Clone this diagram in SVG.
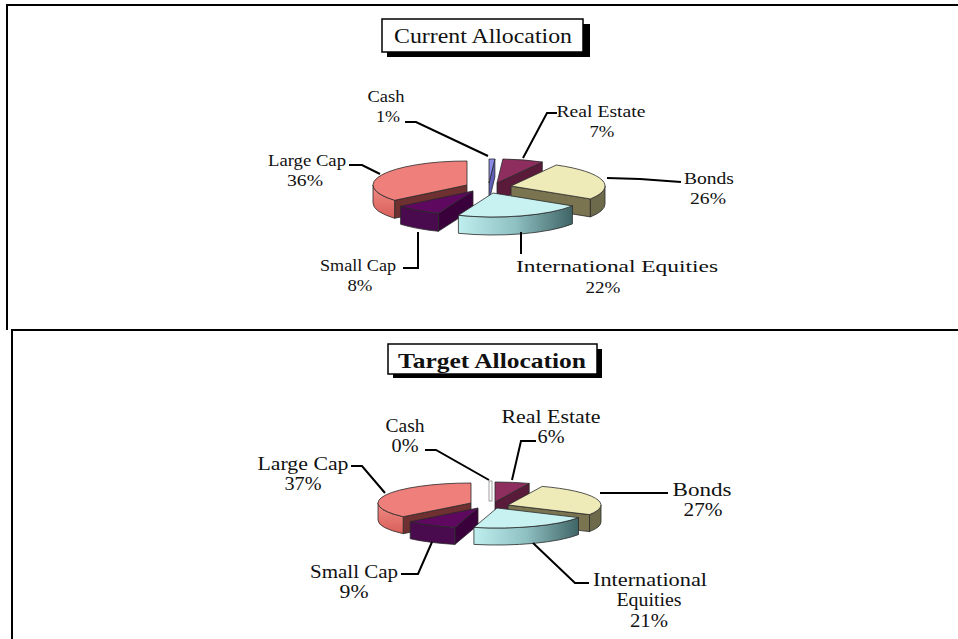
<svg xmlns="http://www.w3.org/2000/svg" width="958" height="639" viewBox="0 0 958 639">
<defs>
<linearGradient id="cyanSide" x1="0" y1="0" x2="1" y2="0">
<stop offset="0" stop-color="#bfeeee"/><stop offset="0.5" stop-color="#8fc0c2"/><stop offset="1" stop-color="#3f6466"/>
</linearGradient>
<linearGradient id="salmonSide" x1="0" y1="0" x2="0" y2="1">
<stop offset="0" stop-color="#f08a84"/><stop offset="1" stop-color="#d85f5a"/>
</linearGradient>
<style>
.frame{fill:none;stroke:#000;stroke-width:2}
.lead{fill:none;stroke:#000;stroke-width:2}
.lbl{font-family:"Liberation Serif","Times New Roman",serif;font-size:17px;fill:#111;text-anchor:middle}
.lb2{font-family:"Liberation Serif","Times New Roman",serif;font-size:18px;fill:#111;text-anchor:middle}
.ttl{font-family:"Liberation Serif","Times New Roman",serif;font-size:22px;fill:#111;text-anchor:middle}
.s{stroke:#2a2a2a;stroke-width:0.8;stroke-linejoin:round}
.lcT{fill:#ef7f7a}.lcS{fill:url(#salmonSide)}.lcF{fill:#6e3030}
.scT{fill:#5e0860}.scS{fill:#4a0a4e}.scF{fill:#3a003c}
.inT{fill:#c8f2f2}.inS{fill:url(#cyanSide)}
.boT{fill:#eeebb8}.boS{fill:#6c6a4a}.boF{fill:#7a7450}
.reT{fill:#8e2e5e}.reF{fill:#5a1a3a}
.caT{fill:#8a8ae8}.caF{fill:#5e5eb8}
</style>
</defs>
<rect width="958" height="639" fill="#fff"/>
<path class="frame" d="M7,330 V5 H958"/>
<path class="frame" d="M12,639 V330 H958"/>

<g id="title-current">
<rect x="387" y="24" width="203" height="33" fill="#000"/>
<rect x="382" y="19" width="201" height="33" fill="#fff" stroke="#000" stroke-width="1.5"/>
<text class="ttl" x="483" y="43" textLength="178" lengthAdjust="spacingAndGlyphs">Current Allocation</text>
</g>

<g id="pie-current">
<g id="cur-cash">
<path class="s caF" d="M489,183 L494.9,159 L494.9,177 L489,201 Z"/>
<path class="s caT" d="M489,183 L489,159 A94,24 0 0 1 494.9,159 Z"/>
</g>
<g id="cur-realestate">
<path class="s reF" d="M497,183 L542.3,162 L542.3,180 L497,201 Z"/>
<path class="s reT" d="M497,183 L502.9,159 A94,24 0 0 1 542.3,162 Z"/>
</g>
<g id="cur-largecap">
<path class="s lcF" d="M467,185 L394.6,200.3 L394.6,218.3 L467,203 Z"/>
<path class="s lcS" d="M394.6,200.3 A94,24 0 0 1 373,185 L373,203 A94,24 0 0 0 394.6,218.3 Z"/>
<path class="s lcT" d="M467,185 L394.6,200.3 A94,24 0 0 1 467,161 Z"/>
</g>
<g id="cur-bonds">
<path class="s boF" d="M511,186 L590.4,198.9 L590.4,216.9 L511,204 Z"/>
<path class="s boS" d="M605,186 A94,24 0 0 1 590.4,198.9 L590.4,216.9 A94,24 0 0 0 605,204 Z"/>
<path class="s boT" d="M511,186 L556.3,165 A94,24 0 0 1 590.4,198.9 Z"/>
</g>
<g id="cur-smallcap">
<path class="s scF" d="M473,191 L438.4,213.3 L438.4,231.3 L473,209 Z"/>
<path class="s scS" d="M438.4,213.3 A94,24 0 0 1 400.6,206.3 L400.6,224.3 A94,24 0 0 0 438.4,231.3 Z"/>
<path class="s scT" d="M473,191 L438.4,213.3 A94,24 0 0 1 400.6,206.3 Z"/>
</g>
<g id="cur-intl">
<path class="s inS" d="M572.4,205.9 A94,24 0 0 1 458.4,215.3 L458.4,233.3 A94,24 0 0 0 572.4,223.9 Z"/>
<path class="s inT" d="M493,193 L572.4,205.9 A94,24 0 0 1 458.4,215.3 Z"/>
</g>
</g>

<g id="connectors-current">
<path class="lead" d="M405,122 H416 L488,156"/>
<path class="lead" d="M349,165 H362 L380,174"/>
<path class="lead" d="M557,113 H547 L523,158"/>
<path class="lead" d="M607,178 L640,179 L681,182"/>
<path class="lead" d="M521,232 V254"/>
<path class="lead" d="M418,232 V268 H403"/>
</g>

<g id="labels-current">
<g id="lbl-cur-cash"><text class="lbl" x="386" y="102" textLength="37" lengthAdjust="spacingAndGlyphs">Cash</text><text class="lbl" x="388" y="122" textLength="24" lengthAdjust="spacingAndGlyphs">1%</text></g>
<g id="lbl-cur-largecap"><text class="lbl" x="307" y="166" textLength="78" lengthAdjust="spacingAndGlyphs">Large Cap</text><text class="lbl" x="305" y="186" textLength="36" lengthAdjust="spacingAndGlyphs">36%</text></g>
<g id="lbl-cur-realestate"><text class="lbl" x="601" y="117" textLength="89" lengthAdjust="spacingAndGlyphs">Real Estate</text><text class="lbl" x="602" y="137" textLength="25" lengthAdjust="spacingAndGlyphs">7%</text></g>
<g id="lbl-cur-bonds"><text class="lbl" x="709" y="184" textLength="50" lengthAdjust="spacingAndGlyphs">Bonds</text><text class="lbl" x="708" y="204" textLength="36" lengthAdjust="spacingAndGlyphs">26%</text></g>
<g id="lbl-cur-intl"><text class="lbl" x="617" y="272" textLength="202" lengthAdjust="spacingAndGlyphs">International Equities</text><text class="lbl" x="603" y="293" textLength="35" lengthAdjust="spacingAndGlyphs">22%</text></g>
<g id="lbl-cur-smallcap"><text class="lbl" x="358" y="271" textLength="76" lengthAdjust="spacingAndGlyphs">Small Cap</text><text class="lbl" x="360" y="291" textLength="25" lengthAdjust="spacingAndGlyphs">8%</text></g>
</g>

<g id="title-target">
<rect x="393" y="349" width="209" height="29" fill="#000"/>
<rect x="388" y="344" width="209" height="30" fill="#fff" stroke="#000" stroke-width="1.5"/>
<text class="ttl" x="492" y="368" font-weight="bold" textLength="188" lengthAdjust="spacingAndGlyphs">Target Allocation</text>
</g>

<g id="pie-target">
<g id="tgt-cash">
<rect x="489" y="481" width="3" height="20" fill="#fff" stroke="#888" stroke-width="0.8"/>
</g>
<g id="tgt-realestate">
<path class="s reF" d="M495,502 L529.2,483.4 L529.2,500.4 L495,519 Z"/>
<path class="s reT" d="M495,502 L495,482 A93,20 0 0 1 529.2,483.4 Z"/>
</g>
<g id="tgt-largecap">
<path class="s lcF" d="M471,503 L403.2,516.7 L403.2,533.7 L471,520 Z"/>
<path class="s lcS" d="M403.2,516.7 A93,20 0 0 1 378,503 L378,520 A93,20 0 0 0 403.2,533.7 Z"/>
<path class="s lcT" d="M471,503 L403.2,516.7 A93,20 0 0 1 471,483 Z"/>
</g>
<g id="tgt-bonds">
<path class="s boF" d="M508,505 L589.5,514.6 L589.5,531.6 L508,522 Z"/>
<path class="s boS" d="M601,505 A93,20 0 0 1 589.5,514.6 L589.5,531.6 A93,20 0 0 0 601,522 Z"/>
<path class="s boT" d="M508,505 L542.2,486.4 A93,20 0 0 1 589.5,514.6 Z"/>
</g>
<g id="tgt-smallcap">
<path class="s scF" d="M478,508 L454.9,527.4 L454.9,544.4 L478,525 Z"/>
<path class="s scS" d="M454.9,527.4 A93,20 0 0 1 410.2,521.7 L410.2,538.7 A93,20 0 0 0 454.9,544.4 Z"/>
<path class="s scT" d="M478,508 L454.9,527.4 A93,20 0 0 1 410.2,521.7 Z"/>
</g>
<g id="tgt-intl">
<path class="s inS" d="M578.5,517.6 A93,20 0 0 1 473.9,527.4 L473.9,544.4 A93,20 0 0 0 578.5,534.6 Z"/>
<path class="s inT" d="M497,508 L578.5,517.6 A93,20 0 0 1 473.9,527.4 Z"/>
</g>
</g>

<g id="connectors-target">
<path class="lead" d="M425,450 H436 L489,480"/>
<path class="lead" d="M351,466 H362 L385,493"/>
<path class="lead" d="M536,441 H521 L512,480"/>
<path class="lead" d="M600,493 H668"/>
<path class="lead" d="M533,543 L575,583 H589"/>
<path class="lead" d="M432,542 L418,574 H401"/>
</g>

<g id="labels-target">
<g id="lbl-tgt-cash"><text class="lb2" x="405" y="432" textLength="39" lengthAdjust="spacingAndGlyphs">Cash</text><text class="lb2" x="405" y="452" textLength="27" lengthAdjust="spacingAndGlyphs">0%</text></g>
<g id="lbl-tgt-largecap"><text class="lb2" x="303" y="470" textLength="91" lengthAdjust="spacingAndGlyphs">Large Cap</text><text class="lb2" x="303" y="490" textLength="37" lengthAdjust="spacingAndGlyphs">37%</text></g>
<g id="lbl-tgt-realestate"><text class="lb2" x="551" y="423" textLength="99" lengthAdjust="spacingAndGlyphs">Real Estate</text><text class="lb2" x="551" y="443" textLength="27" lengthAdjust="spacingAndGlyphs">6%</text></g>
<g id="lbl-tgt-bonds"><text class="lb2" x="702" y="496" textLength="59" lengthAdjust="spacingAndGlyphs">Bonds</text><text class="lb2" x="703" y="516" textLength="39" lengthAdjust="spacingAndGlyphs">27%</text></g>
<g id="lbl-tgt-intl"><text class="lb2" x="650" y="586" textLength="114" lengthAdjust="spacingAndGlyphs">International</text><text class="lb2" x="649" y="606" textLength="65" lengthAdjust="spacingAndGlyphs">Equities</text><text class="lb2" x="649" y="627" textLength="38" lengthAdjust="spacingAndGlyphs">21%</text></g>
<g id="lbl-tgt-smallcap"><text class="lb2" x="354" y="578" textLength="88" lengthAdjust="spacingAndGlyphs">Small Cap</text><text class="lb2" x="354" y="598" textLength="29" lengthAdjust="spacingAndGlyphs">9%</text></g>
</g>
</svg>
